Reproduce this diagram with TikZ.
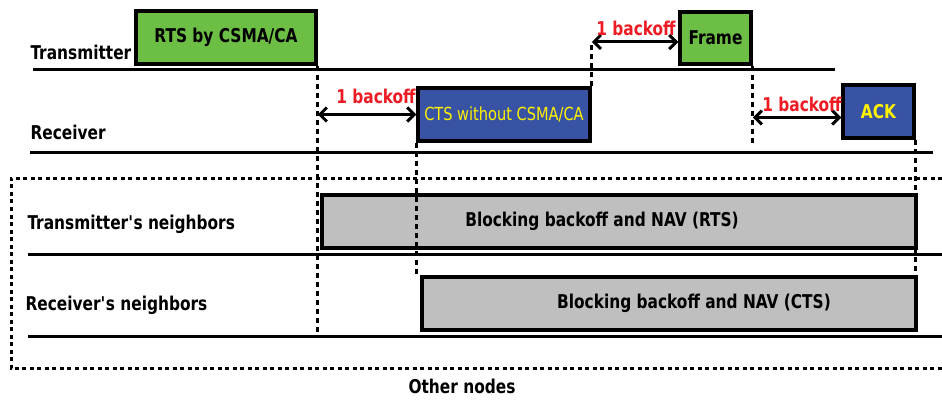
\documentclass[tikz,border=0pt]{standalone}
\usepackage{fontspec}
\setmainfont{DejaVu Sans Condensed}[FakeStretch=0.9]
\usetikzlibrary{arrows.meta}

\definecolor{pktgreen}{RGB}{108,190,69}
\definecolor{pktblue}{RGB}{57,83,164}
\definecolor{navgray}{RGB}{191,191,191}
\definecolor{bkred}{RGB}{237,28,36}
\definecolor{pktyellow}{RGB}{255,242,0}

\tikzset{
  pkt/.style={draw=black, line width=3.5pt, inner sep=0pt,
    font=\fontsize{19}{22}\selectfont\bfseries},
  tline/.style={line width=3pt},
  vline/.style={line width=3pt, dash pattern=on 5pt off 4pt},
  otherbox/.style={line width=3pt, dash pattern=on 4pt off 3.5pt},
  bkarrow/.style={line width=3pt,
    {Straight Barb[length=7pt,width=14pt]}-{Straight Barb[length=7pt,width=14pt]}},
  bktext/.style={text=bkred, font=\fontsize{19}{22}\selectfont\bfseries},
  rowtext/.style={anchor=west, font=\fontsize{19}{22}\selectfont\bfseries},
}

\begin{document}
\begin{tikzpicture}[x=1pt,y=-1pt]
\useasboundingbox (0,0) rectangle (942,401);

% time lines
\coordinate (txL) at (33,70);   \coordinate (txR) at (835,70);
\coordinate (rxL) at (30,152);  \coordinate (rxR) at (933,152);
\coordinate (tnL) at (28,254);  \coordinate (tnR) at (942,254);
\coordinate (rnL) at (28,336);  \coordinate (rnR) at (942,336);
\draw[tline] (txL) -- (txR);
\draw[tline] (rxL) -- (rxR);
\draw[tline] (tnL) -- (tnR);
\draw[tline] (rnL) -- (rnR);

\node[rowtext] (txlabel) at (27,52) {Transmitter};
\node[rowtext] (rxlabel) at (27,132) {Receiver};
\node[rowtext] (tnlabel) at (24,224) {Transmitter\textquotesingle s neighbors};
\node[rowtext] (rnlabel) at (22,305) {Receiver\textquotesingle s neighbors};

% other nodes
\draw[otherbox] (942,178) -- (11,178) -- (11,368) -- (942,368);
\node[font=\fontsize{19}{22}\selectfont\bfseries] (other) at (462,386) {Other nodes};

% packets
\node[pkt, fill=pktgreen, minimum width=180pt, minimum height=53pt] (rts) at (226,37.5) {RTS by CSMA/CA};
\node[pkt, fill=pktgreen, minimum width=71pt, minimum height=52pt] (frame) at (715.5,38) {Frame};
\node[pkt, fill=pktblue, text=pktyellow, minimum width=172pt, minimum height=53pt,
  font=\fontsize{18}{21}\selectfont] (cts) at (504,114.5) {CTS without CSMA/CA};
\node[pkt, fill=pktblue, text=pktyellow, minimum width=71pt, minimum height=53pt] (ack) at (878.5,111.5) {ACK};

% NAV
\node[pkt, fill=navgray, minimum width=594pt, minimum height=53pt] (rtsnav) at (619,221.5) {};
\node[pkt, fill=navgray, minimum width=494pt, minimum height=53pt] (ctsnav) at (669,303.5) {};
\node[font=\fontsize{19}{22}\selectfont\bfseries] (rtsnavtext) at ([xshift=-17pt]rtsnav.center) {Blocking backoff and NAV (RTS)};
\node[font=\fontsize{19}{22}\selectfont\bfseries] (ctsnavtext) at ([xshift=25pt]ctsnav.center) {Blocking backoff and NAV (CTS)};

% dotted markers
\coordinate (frarr) at ([yshift=-4pt]frame.west);
\coordinate (ackarr) at ([yshift=-6pt]ack.west);
\draw[vline] (rts.south east) -- (rts.south east |- rnL);
\draw[vline] (cts.south west) -- (cts.south west |- ctsnav.north);
\draw[vline] (cts.north east) -- (cts.north east |- frarr);
\draw[vline] (frame.south east) -- (frame.south east |- cts.south);
\draw[vline] (ack.south east) -- (ack.south east |- ctsnav.north);

% backoffs
\draw[bkarrow] (rts.south east |- cts.west) -- (cts.west);
\draw[bkarrow] (cts.north east |- frarr) -- (frarr);
\draw[bkarrow] (frame.south east |- ackarr) -- (ackarr);
\node[bktext] (bk1) at (376,96) {1 backoff};
\node[bktext] (bk2) at (636,28) {1 backoff};
\node[bktext] (bk3) at (802,104) {1 backoff};

\end{tikzpicture}
\end{document}
